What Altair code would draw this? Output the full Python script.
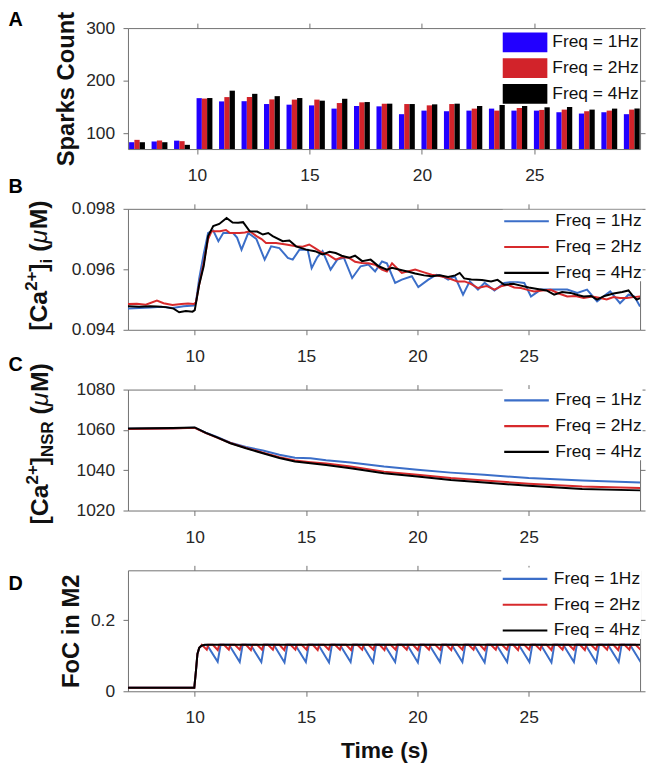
import altair as alt
import pandas as pd

FONT = "Liberation Sans"
TXT = "#111111"
AXC = "#262626"
BOX = "#707070"

W = 516.5
H = 122

LABELS = ["Freq = 1Hz", "Freq = 2Hz", "Freq = 4Hz"]
BAR_COLORS = ["#2200ff", "#d2232a", "#000000"]
LINE_COLORS = ["#3b6ec8", "#d72a2c", "#000000"]

# ---------------- Panel A: sparks count per second ----------------
bar_t = [7, 8, 9, 10, 11, 12, 13, 14, 15, 16, 17, 18, 19, 20, 21, 22, 23, 24, 25, 26, 27, 28, 29]
sparks_1hz = [83, 84.4, 86, 166.8, 160.6, 161, 155.6, 154.4, 153, 146.9, 151.9, 151.2, 136.3,
              143.1, 141.9, 143.1, 146.9, 143.1, 143.1, 140, 137.5, 140, 136.3]
sparks_2hz = [87.5, 86.3, 85, 166, 168.8, 169, 164.4, 164, 164, 157.5, 158.8, 156.3, 155.6,
              153.1, 155.6, 146.9, 143.1, 148.1, 144.4, 145, 141.9, 143.1, 145]
sparks_4hz = [83, 83, 78, 167, 181, 175, 170.6, 167, 162, 165.6, 159.4, 156.3, 155.6,
              155, 156.3, 151.9, 153.8, 151.9, 149.4, 150, 145, 146.9, 146.9]

# ---------------- Panel B: [Ca2+]i ----------------
b_t_1hz = [7.0, 7.5, 8.0, 8.5, 9.0, 9.5, 9.95, 10.05, 10.2, 10.4, 10.6, 10.83, 11.06, 11.28, 11.72,
           11.9, 12.1, 12.4, 12.77, 13.14, 13.43, 13.8, 14.18, 14.4, 14.7, 15.07, 15.25, 15.5, 15.74,
           16.1, 16.4, 16.7, 17.07, 17.45, 17.8, 18.1, 18.41, 18.63, 19.0, 19.3, 19.75, 20.04, 20.49,
           20.86, 21.1, 21.38, 21.68, 22.05, 22.35, 22.72, 23.02, 23.46, 23.9, 24.35, 24.8, 25.1,
           25.54, 26.14, 26.73, 27.18, 27.62, 28.07, 28.66, 29.1, 29.48, 29.75, 30.0]
b_v_1hz = [0.0947, 0.09472, 0.09474, 0.09476, 0.09472, 0.09478, 0.0948, 0.0949, 0.0957, 0.0965,
           0.0972, 0.09728, 0.09693, 0.0972, 0.0972, 0.09705, 0.09665, 0.0972, 0.097, 0.09632,
           0.09676, 0.0967, 0.09638, 0.09632, 0.09665, 0.09665, 0.09604, 0.0964, 0.0966, 0.09599,
           0.09632, 0.09638, 0.09571, 0.0961, 0.09616, 0.09593, 0.09626, 0.0962, 0.09555, 0.09566,
           0.09577, 0.09541, 0.09566, 0.09582, 0.09578, 0.09566, 0.09577, 0.09516, 0.0956, 0.09533,
           0.09555, 0.0953, 0.09555, 0.0956, 0.09555, 0.0951, 0.09533, 0.09533, 0.09533, 0.09522,
           0.09533, 0.09494, 0.09527, 0.09488, 0.09516, 0.0951, 0.09477]
b_t_2hz = [7.0, 7.4, 7.8, 8.3, 8.6, 9.0, 9.4, 9.7, 9.95, 10.05, 10.2, 10.4, 10.6, 10.76, 11.13, 11.4,
           11.58, 12.02, 12.25, 12.47, 12.77, 13.0, 13.2, 13.65, 14.1, 14.55, 14.85, 15.14, 15.4,
           15.74, 16.0, 16.33, 16.6, 16.93, 17.2, 17.5, 17.8, 18.1, 18.41, 18.63, 18.86, 19.3, 19.9,
           20.3, 20.64, 21.0, 21.38, 21.8, 22.12, 22.4, 22.72, 23.1, 23.46, 23.8, 24.06, 24.35,
           24.65, 24.95, 25.24, 25.6, 25.99, 26.35, 26.73, 27.1, 27.47, 27.85, 28.22, 28.5, 28.81,
           29.1, 29.4, 29.7, 30.0]
b_v_2hz = [0.09485, 0.09486, 0.09483, 0.09497, 0.09488, 0.09482, 0.09485, 0.09487, 0.09485, 0.0949,
           0.0955, 0.0962, 0.097, 0.09726, 0.09726, 0.0973, 0.0972, 0.0972, 0.09722, 0.09726,
           0.0971, 0.097, 0.09687, 0.09687, 0.09682, 0.09676, 0.09675, 0.09682, 0.0967, 0.09654,
           0.09648, 0.09632, 0.0964, 0.09638, 0.09625, 0.09621, 0.0962, 0.09615, 0.09599, 0.09593,
           0.0962, 0.09588, 0.09599, 0.0959, 0.09582, 0.09578, 0.09571, 0.0956, 0.0956, 0.09552,
           0.09538, 0.09545, 0.09533, 0.09545, 0.09549, 0.0954, 0.09538, 0.09532, 0.09527, 0.0953,
           0.09532, 0.0952, 0.0951, 0.09512, 0.09505, 0.0951, 0.09505, 0.095, 0.09508, 0.09505,
           0.09505, 0.09508, 0.0951]
b_t_4hz = [7.0, 7.5, 8.0, 8.3, 8.7, 9.05, 9.3, 9.6, 9.9, 10.0, 10.2, 10.4, 10.6, 10.83, 11.1, 11.43,
           11.7, 11.95, 12.17, 12.47, 12.8, 13.06, 13.3, 13.5, 13.95, 14.25, 14.55, 15.0, 15.4,
           15.74, 16.05, 16.33, 16.6, 16.93, 17.2, 17.52, 17.9, 18.26, 18.63, 18.86, 19.3, 19.6,
           19.9, 20.3, 20.64, 21.0, 21.38, 21.7, 21.9, 22.1, 22.42, 22.9, 23.31, 23.6, 23.9, 24.3,
           24.65, 25.0, 25.39, 25.8, 26.14, 26.5, 26.88, 27.2, 27.47, 27.8, 28.07, 28.4, 28.81,
           29.2, 29.48, 29.7, 29.85, 30.0]
b_v_4hz = [0.09478, 0.09476, 0.09478, 0.09477, 0.09475, 0.0947, 0.09458, 0.09462, 0.0946, 0.09465,
           0.0955, 0.0961, 0.0971, 0.09743, 0.0975, 0.0977, 0.09755, 0.09754, 0.09756, 0.09726,
           0.09725, 0.09715, 0.0972, 0.0971, 0.09693, 0.09695, 0.09676, 0.09665, 0.0966, 0.09649,
           0.09658, 0.09654, 0.09645, 0.09638, 0.09645, 0.09627, 0.09632, 0.0961, 0.09599, 0.09605,
           0.09597, 0.09592, 0.09586, 0.0958, 0.09577, 0.0958, 0.09575, 0.0958, 0.09588, 0.0957,
           0.09566, 0.09565, 0.0956, 0.09565, 0.09549, 0.09552, 0.09546, 0.0954, 0.09535, 0.0953,
           0.09516, 0.09525, 0.09522, 0.09515, 0.0951, 0.09512, 0.095, 0.09512, 0.0952, 0.09525,
           0.0953, 0.0951, 0.095, 0.09505]

# ---------------- Panel C: [Ca2+]NSR ----------------
c_t = [7, 8, 9, 10, 10.5, 11, 11.6, 12.3, 13.06, 13.8, 14.5, 15.2, 15.9, 17, 18.5, 20, 21.5, 23,
       25, 27.4, 30]
c_1hz = [1060.6, 1060.7, 1060.8, 1061.1, 1058.6, 1056.5, 1053.7, 1051.5, 1049.8, 1047.7, 1046.2,
         1045.9, 1044.9, 1043.8, 1041.8, 1040.2, 1038.8, 1037.7, 1036.1, 1034.9, 1033.9]
c_2hz = [1060.5, 1060.6, 1060.7, 1061.0, 1058.4, 1056.2, 1053.5, 1051.1, 1048.7, 1046.5, 1044.8,
         1044.0, 1043.3, 1041.8, 1039.3, 1037.7, 1036.1, 1034.9, 1033.3, 1031.9, 1031.2]
c_4hz = [1060.7, 1060.8, 1060.9, 1061.2, 1058.5, 1056.3, 1053.4, 1050.9, 1048.4, 1046.1, 1044.3,
         1043.5, 1042.6, 1041.0, 1038.5, 1036.9, 1035.2, 1033.9, 1032.3, 1030.7, 1030.0]

# ---------------- Panel D: FoC in M2 ----------------
d_rise_t = [7, 9.98, 10.05, 10.12, 10.2, 10.3]
d_rise_v = [0.01, 0.01, 0.055, 0.105, 0.122, 0.128]
d_top = 0.1305
d_dips_1hz = [11.03, 12.02, 12.99, 14.03, 14.99, 16.03, 17.0, 18.01, 19.0, 20.02, 21.01, 22.02,
              23.02, 24.03, 25.03, 26.02, 27.03, 28.03, 29.04, 30.03]
d_dipv_1hz = [0.083, 0.082, 0.082, 0.081, 0.082, 0.081, 0.082, 0.081, 0.082, 0.081, 0.082, 0.082,
              0.081, 0.082, 0.082, 0.081, 0.082, 0.081, 0.082, 0.082]
d_dips_2hz = [10.54, 11.03, 11.53, 12.02, 12.52, 13.02, 13.51, 14.02, 14.52, 15.02, 15.52, 16.02,
              16.52, 17.02, 17.52, 18.02, 18.52, 19.02, 19.52, 20.02, 20.52, 21.02, 21.52, 22.02,
              22.52, 23.02, 23.52, 24.02, 24.52, 25.02, 25.52, 26.02, 26.52, 27.02, 27.52, 28.02,
              28.52, 29.02, 29.52, 30.02]
d_dipv_2hz = [0.117, 0.116, 0.117, 0.117, 0.116, 0.117, 0.117, 0.116, 0.117, 0.117, 0.116, 0.117,
              0.117, 0.116, 0.117, 0.117, 0.116, 0.117, 0.117, 0.116, 0.117, 0.117, 0.116, 0.117,
              0.117, 0.116, 0.117, 0.117, 0.116, 0.117, 0.117, 0.116, 0.117, 0.117, 0.116, 0.117,
              0.117, 0.116, 0.117, 0.117]
d_t_4hz = [7, 9.98, 10.05, 10.12, 10.2, 10.3, 10.45, 30]
d_v_4hz = [0.01, 0.01, 0.055, 0.105, 0.122, 0.128, 0.1305, 0.1305]


def long_df(series):
    rows = []
    for label, ts, vs in series:
        for t, v in zip(ts, vs):
            rows.append({"t": t, "v": v, "freq": label})
    return pd.DataFrame(rows)


def vertices(dips, dipv, before, after):
    ts, vs = list(d_rise_t), list(d_rise_v)
    for d, dv in zip(dips, dipv):
        ts += [d - before, d, d + after]
        vs += [d_top, dv, d_top]
    return ts, vs


ONE = pd.DataFrame({"k": [0]})
W_BOLD = {"[": .333, "C": .722, "a": .556, "2": .556, "+": .584, "]": .333, "i": .278,
          " ": .278, "(": .333, "M": .833, ")": .333, "N": .722, "S": .667, "R": .722}
W_MU = 0.576


def composed_title(pieces, base_x, y0, main=25, small=17):
    layers = []
    y = y0
    for text, kind, gap in pieces:
        y -= gap * main
        fs, dx, weight, style = main, 0, "bold", "normal"
        if kind == "sup":
            fs, dx = small, -10
        elif kind == "sub":
            fs, dx = small, 5
        elif kind == "mu":
            weight, style = "normal", "italic"
        layers.append(
            alt.Chart(ONE).mark_text(
                text=text, font=FONT, fontSize=fs, fontWeight=weight, fontStyle=style,
                angle=270, align="left", baseline="alphabetic", color=TXT
            ).encode(x=alt.value(base_x + dx), y=alt.value(y))
        )
        w = W_MU * fs if kind == "mu" else sum(W_BOLD[c] for c in text) * fs
        y -= w
    return layers


def letter(ch, y):
    return alt.Chart(ONE).mark_text(
        text=ch, font=FONT, fontSize=20, fontWeight="bold", align="left",
        baseline="top", color="#000000"
    ).encode(x=alt.value(-120.5), y=alt.value(y))


def make_legend(kind, ly, lx=378):
    path = "M-1,-1L3.5,-1L3.5,1L-1,1Z" if kind == "bar" else "M-1,0L3.5,0"
    return alt.Legend(
        title=None, orient="none", legendX=lx, legendY=ly, symbolType=path,
        symbolSize=400, symbolStrokeWidth=(0 if kind == "bar" else 2.2),
        labelOffset=30, labelFont=FONT, labelFontSize=17.5, labelColor=TXT,
        rowPadding=6, fillColor="white", padding=0, labelLimit=300, symbolOpacity=1
    )


XV = [10, 15, 20, 25]


def x_axis(title=None):
    if title:
        return alt.Axis(values=XV, format="d", labelPadding=13, labelFlush=False, title=title,
                        titleFontSize=23, titleFontWeight="bold", titlePadding=13, titleColor=TXT)
    return alt.Axis(values=XV, format="d", labelPadding=13, labelFlush=False, title=None)


def guide(xfield, xs, yfield, ys, yvals, x0, y0):
    g = pd.DataFrame({xfield: [x0], yfield: [y0]})
    return alt.Chart(g).mark_point(opacity=0).encode(
        x=alt.X(f"{xfield}:Q", scale=xs,
                axis=alt.Axis(orient="top", values=XV, labels=False, title=None)),
        y=alt.Y(f"{yfield}:Q", scale=ys,
                axis=alt.Axis(orient="right", values=yvals, labels=False, title=None)),
    )


# ---- Panel A chart
rows = []
for k, (label, vals) in enumerate(zip(LABELS, [sparks_1hz, sparks_2hz, sparks_4hz])):
    for t, v in zip(bar_t, vals):
        rows.append({"t": t, "k": k, "v": v, "freq": label})
df_a = pd.DataFrame(rows)
xs_a = alt.Scale(domain=[6.93, 29.7], nice=False, zero=False)
ys_a = alt.Scale(domain=[70, 300], nice=False, zero=False)
bars = alt.Chart(df_a).transform_calculate(
    x0="datum.t - 0.02 + datum.k * 0.235", x1="datum.t - 0.02 + (datum.k + 1) * 0.235"
).mark_bar(clip=True).encode(
    x=alt.X("x0:Q", scale=xs_a, axis=x_axis()),
    x2="x1:Q",
    y=alt.Y("v:Q", scale=ys_a,
            axis=alt.Axis(values=[100, 200, 300], format="d", labelPadding=8.5, labelFlush=False,
                          title="Sparks Count", titleX=-62, titleY=H / 2, titleAngle=270,
                          titleAlign="center", titleBaseline="middle", titleFontSize=24,
                          titleFontWeight="bold", titleColor=TXT)),
    y2=alt.datum(0),
    color=alt.Color("freq:N", scale=alt.Scale(domain=LABELS, range=BAR_COLORS),
                    legend=make_legend("bar", 4.4)),
)
panel_a = alt.layer(
    bars, guide("x0", xs_a, "v", ys_a, [100, 200, 300], 6.93, 70), letter("A", -18)
).resolve_axis(x="independent", y="independent").properties(width=W, height=H)


def line_panel(df, ydom, yvals, yfmt, ytitle_layers, leg_y, let, let_y, xtitle=None,
               yaxis_extra=None, leg_x=378):
    xs = alt.Scale(domain=[7, 30], nice=False, zero=False)
    ys = alt.Scale(domain=ydom, nice=False, zero=False)
    ax = dict(values=yvals, format=yfmt, labelPadding=8.5, labelFlush=False, title=None)
    if yaxis_extra:
        ax.update(yaxis_extra)
    lines = alt.Chart(df).mark_line(clip=True, strokeWidth=2).encode(
        x=alt.X("t:Q", scale=xs, axis=x_axis(xtitle)),
        y=alt.Y("v:Q", scale=ys, axis=alt.Axis(**ax)),
        color=alt.Color("freq:N", scale=alt.Scale(domain=LABELS, range=LINE_COLORS),
                        legend=make_legend("line", leg_y, leg_x)),
        order=alt.Order("t:Q"),
    )
    return alt.layer(
        lines, guide("t", xs, "v", ys, yvals, 7, ydom[0]), letter(let, let_y), *ytitle_layers
    ).resolve_axis(x="independent", y="independent").properties(width=W, height=H)


df_b = long_df([(LABELS[0], b_t_1hz, b_v_1hz), (LABELS[1], b_t_2hz, b_v_2hz),
                (LABELS[2], b_t_4hz, b_v_4hz)])
title_b = composed_title([("[Ca", "main", 0), ("2+", "sup", 0), ("]", "main", 0),
                          ("i", "sub", 0), ("(", "main", 0.278), ("\u03bc", "mu", 0),
                          ("M)", "main", 0)], -82, 123)
panel_b = line_panel(df_b, [0.094, 0.098], [0.094, 0.096, 0.098], ".3f", title_b, 1, "B", -31.5)

df_c = long_df([(LABELS[0], c_t, c_1hz), (LABELS[1], c_t, c_2hz), (LABELS[2], c_t, c_4hz)])
title_c = composed_title([("[Ca", "main", 0), ("2+", "sup", 0), ("]", "main", 0),
                          ("NSR", "sub", 0), ("(", "main", 0.278), ("\u03bc", "mu", 0),
                          ("M)", "main", 0)], -80.5, 136)
panel_c = line_panel(df_c, [1020, 1080], [1020, 1040, 1060, 1080], "d", title_c, -0.7, "C", -34.5)

bt, bv = vertices(d_dips_1hz, d_dipv_1hz, 0.48, 0.13)
rt, rv = vertices(d_dips_2hz, d_dipv_2hz, 0.22, 0.07)
df_d = long_df([(LABELS[0], bt, bv), (LABELS[1], rt, rv), (LABELS[2], d_t_4hz, d_v_4hz)])
panel_d = line_panel(
    df_d, [0, 0.34], [0, 0.2], "~g", [], -2.8, "D", 4.2, xtitle="Time (s)",
    yaxis_extra=dict(title="FoC in M2", titleX=-57, titleY=H / 2, titleAngle=270,
                     titleAlign="center", titleBaseline="middle", titleFontSize=24,
                     titleFontWeight="bold", titleColor=TXT),
    leg_x=376.5,
)

chart = alt.vconcat(panel_a, panel_b, panel_c, panel_d, spacing=60.3, bounds="flush").resolve_scale(
    color="independent", x="independent", y="independent"
).resolve_legend(color="independent").properties(
    padding={"top": -2, "left": 0, "right": 0, "bottom": 0}
).configure_view(
    stroke=BOX, strokeWidth=1
).configure_axis(
    domain=False, grid=False, tickColor=BOX, tickSize=5, tickWidth=1, labelFont=FONT,
    labelFontSize=17.5, labelColor=AXC, titleFont=FONT
).configure_legend(labelFont=FONT)

chart.save("out.html", embed_options={"renderer": "svg", "actions": False})
